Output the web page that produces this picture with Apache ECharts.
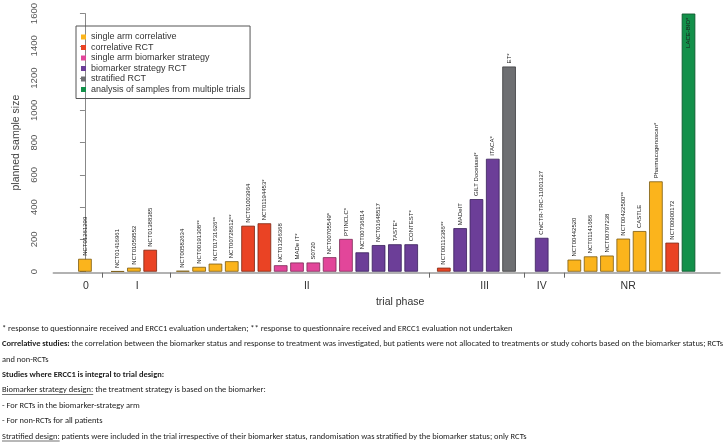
<!DOCTYPE html>
<html>
<head>
<meta charset="utf-8">
<script src="https://cdn.jsdelivr.net/npm/echarts@6/dist/echarts.min.js"></script>
<style>
html,body{margin:0;padding:0;background:#fff;}
#chart{width:726px;height:442px;}
</style>
</head>
<body>
<div id="chart"></div>
<script>
// ---- data ----
const designTypes = ['single arm correlative', 'correlative RCT', 'single arm biomarker strategy',
  'biomarker strategy RCT', 'stratified RCT', 'analysis of samples from multiple trials'];
const typeColors = ['#FBB41C', '#EA4324', '#E2469A', '#6C3E98', '#6E6F72', '#13904A'];
const typeBorders = ['#7A5A12', '#7A2612', '#7A2A55', '#38205A', '#3A3A3C', '#0B5028'];
const phases = ['0', 'I', 'II', 'III', 'IV', 'NR'];
const trialNames = [
  'NCT01261299',
  'NCT01416961', 'NCT01059552', 'NCT01388385',
  'NCT00582634', 'NCT00191308**', 'NCT01731626**', 'NCT00728612**', 'NCT01003964', 'NCT01194453*',
  'NCT01356368', 'MADe IT*', 'S0720', 'NCT00705549*', 'PTINCLC*', 'NCT00736814', 'NCT01648517', 'TASTE*', 'CONTEST*',
  'NCT00113386**', 'MADeIT', 'GILT Docetaxel*', 'ITACA*', 'ET*',
  'ChiCTR-TRC-11001327',
  'NCT00442520', 'NCT01141686', 'NCT00797238', 'NCT00422500**', 'CASTLE', 'Pharmacogenoscan*', 'NCT00900172', 'LACE-BIO*'
];
const trialPhase = [
  0,
  1, 1, 1,
  2, 2, 2, 2, 2, 2, 2, 2, 2, 2, 2, 2, 2, 2, 2,
  3, 3, 3, 3, 3,
  4,
  5, 5, 5, 5, 5, 5, 5, 5
];
const trialType = [
  0,
  0, 0, 1,
  0, 0, 0, 0, 1, 1, 2, 2, 2, 2, 2, 3, 3, 3, 3,
  1, 3, 3, 3, 4,
  3,
  0, 0, 0, 0, 0, 0, 1, 5
];
const sampleSize = [
  80,
  3, 25, 136,
  6, 30, 50, 65, 285, 300, 40, 57, 57, 90, 203, 120, 165, 170, 170,
  25, 270, 450, 700, 1272,
  210,
  75, 95, 100, 205, 252, 560, 180, 1600
];
const yTicks = [0, 200, 400, 600, 800, 1000, 1200, 1400, 1600];
// group separator ticks and phase label positions, in bar-slot units
const groupTickPos = [1.06, 5.21, 21.11, 26.93, 29.39];
const phaseLabelPos = [0.06, 3.2, 13.6, 24.5, 28.0, 33.3];

// ---- build slots: one empty slot between phase groups ----
const slotOf = [];
let slot = 0;
for (let i = 0; i < trialNames.length; i++) {
  if (i > 0 && trialPhase[i] !== trialPhase[i - 1]) slot++;
  slotOf.push(slot);
  slot++;
}

const labelFont = "'Liberation Sans', Arial, sans-serif";
const axisFont = "'Liberation Sans', Arial, sans-serif";

const series = designTypes.map((t, ti) => {
  const data = [];
  for (let i = 0; i < trialNames.length; i++) {
    if (trialType[i] !== ti) continue;
    const item = { name: trialNames[i], value: [slotOf[i], sampleSize[i]] };
    if (sampleSize[i] >= yTicks[yTicks.length - 1]) {
      item.label = { position: 'insideTop', align: 'right', distance: 4 };
    }
    data.push(item);
  }
  return {
    type: 'bar',
    name: t,
    barWidth: 13.6,
    barGap: '-100%',
    itemStyle: { color: typeColors[ti], borderColor: typeBorders[ti], borderWidth: 0.8 },
    label: {
      show: true, position: 'top', rotate: 90, align: 'left', verticalAlign: 'middle',
      distance: 3, fontSize: 6, fontFamily: labelFont, color: '#1a1a1a', formatter: '{b}'
    },
    emphasis: { disabled: true },
    data: data
  };
});

const chart = echarts.init(document.getElementById('chart'), null, { renderer: 'canvas' });

const bodyFont = "Carlito, Lato, 'Open Sans', sans-serif";
const bodySize = 8.45;
const textLines = [
  { y: 329, text: '* response to questionnaire received and ERCC1 evaluation undertaken; ** response to questionnaire received and ERCC1 evaluation not undertaken' },
  { y: 344, text: '{b|Correlative studies:} the correlation between the biomarker status and response to treatment was investigated, but patients were not allocated to treatments or study cohorts based on the biomarker status; RCTs' },
  { y: 360, text: 'and non-RCTs' },
  { y: 375, text: '{b|Studies where ERCC1 is integral to trial design:}' },
  { y: 390, text: 'Biomarker strategy design: the treatment strategy is based on the biomarker:', underline: 'Biomarker strategy design:' },
  { y: 406, text: '- For RCTs in the biomarker-strategy arm' },
  { y: 421, text: '- For non-RCTs for all patients' },
  { y: 436.5, text: 'Stratified design: patients were included in the trial irrespective of their biomarker status, randomisation was stratified by the biomarker status; only RCTs', underline: 'Stratified design:' }
];
const mctx = document.createElement('canvas').getContext('2d');
mctx.font = bodySize + 'px ' + bodyFont;
const graphics = [];
textLines.forEach(l => {
  graphics.push({
    type: 'text', x: 2, y: l.y, silent: true,
    style: {
      text: l.text, fill: '#222', fontSize: bodySize, fontFamily: bodyFont, verticalAlign: 'middle',
      rich: { b: { fontWeight: 'bold', fontSize: bodySize, fontFamily: bodyFont, fill: '#222' } }
    }
  });
  if (l.underline) {
    const w = mctx.measureText(l.underline).width;
    graphics.push({
      type: 'line', silent: true,
      shape: { x1: 2, y1: l.y + 4.5, x2: 2 + w, y2: l.y + 4.5 },
      style: { stroke: '#333', lineWidth: 0.7 }
    });
  }
});

chart.setOption({
  animation: false,
  backgroundColor: '#fff',
  grid: { left: 53.3, right: 6, top: 10, bottom: 170.3, containLabel: false },
  legend: {
    orient: 'vertical', left: 76, top: 26,
    itemWidth: 5, itemHeight: 5, itemGap: 0.5, icon: 'rect',
    itemStyle: { borderWidth: 0 },
    padding: [6, 5, 4, 5],
    borderColor: '#555', borderWidth: 1,
    textStyle: { fontSize: 9, lineHeight: 10, color: '#333', fontFamily: axisFont },
    data: designTypes,
    selectedMode: false
  },
  xAxis: {
    type: 'value', min: -1.94, max: 38.93, offset: 1,
    axisLine: { show: true, onZero: false, lineStyle: { color: '#999', width: 1.5 } },
    axisTick: { show: true, customValues: groupTickPos, length: 5, lineStyle: { color: '#666', width: 1 } },
    axisLabel: {
      customValues: phaseLabelPos, margin: 8, fontSize: 10.5, color: '#333',
      fontFamily: axisFont,
      formatter: v => phases[phaseLabelPos.indexOf(v)]
    },
    splitLine: { show: false },
    name: 'trial phase', nameLocation: 'middle', nameGap: 21,
    nameTextStyle: { fontSize: 10.5, color: '#333', fontFamily: axisFont, padding: [0, 0, 0, 27] }
  },
  yAxis: {
    type: 'value', min: yTicks[0], max: yTicks[yTicks.length - 1], interval: 200,
    axisLine: { show: true, lineStyle: { color: '#888', width: 1 } },
    axisTick: { show: true, length: 5, lineStyle: { color: '#888' } },
    axisLabel: {
      rotate: 90, fontSize: 9.5, color: '#555', margin: 14, fontFamily: axisFont,
      formatter: v => String(v)
    },
    splitLine: { show: false },
    name: 'planned sample size', nameLocation: 'middle', nameRotate: 90, nameGap: 32,
    nameTextStyle: { fontSize: 10.5, color: '#444', fontFamily: axisFont }
  },
  graphic: graphics,
  series: series
});
</script>
</body>
</html>
